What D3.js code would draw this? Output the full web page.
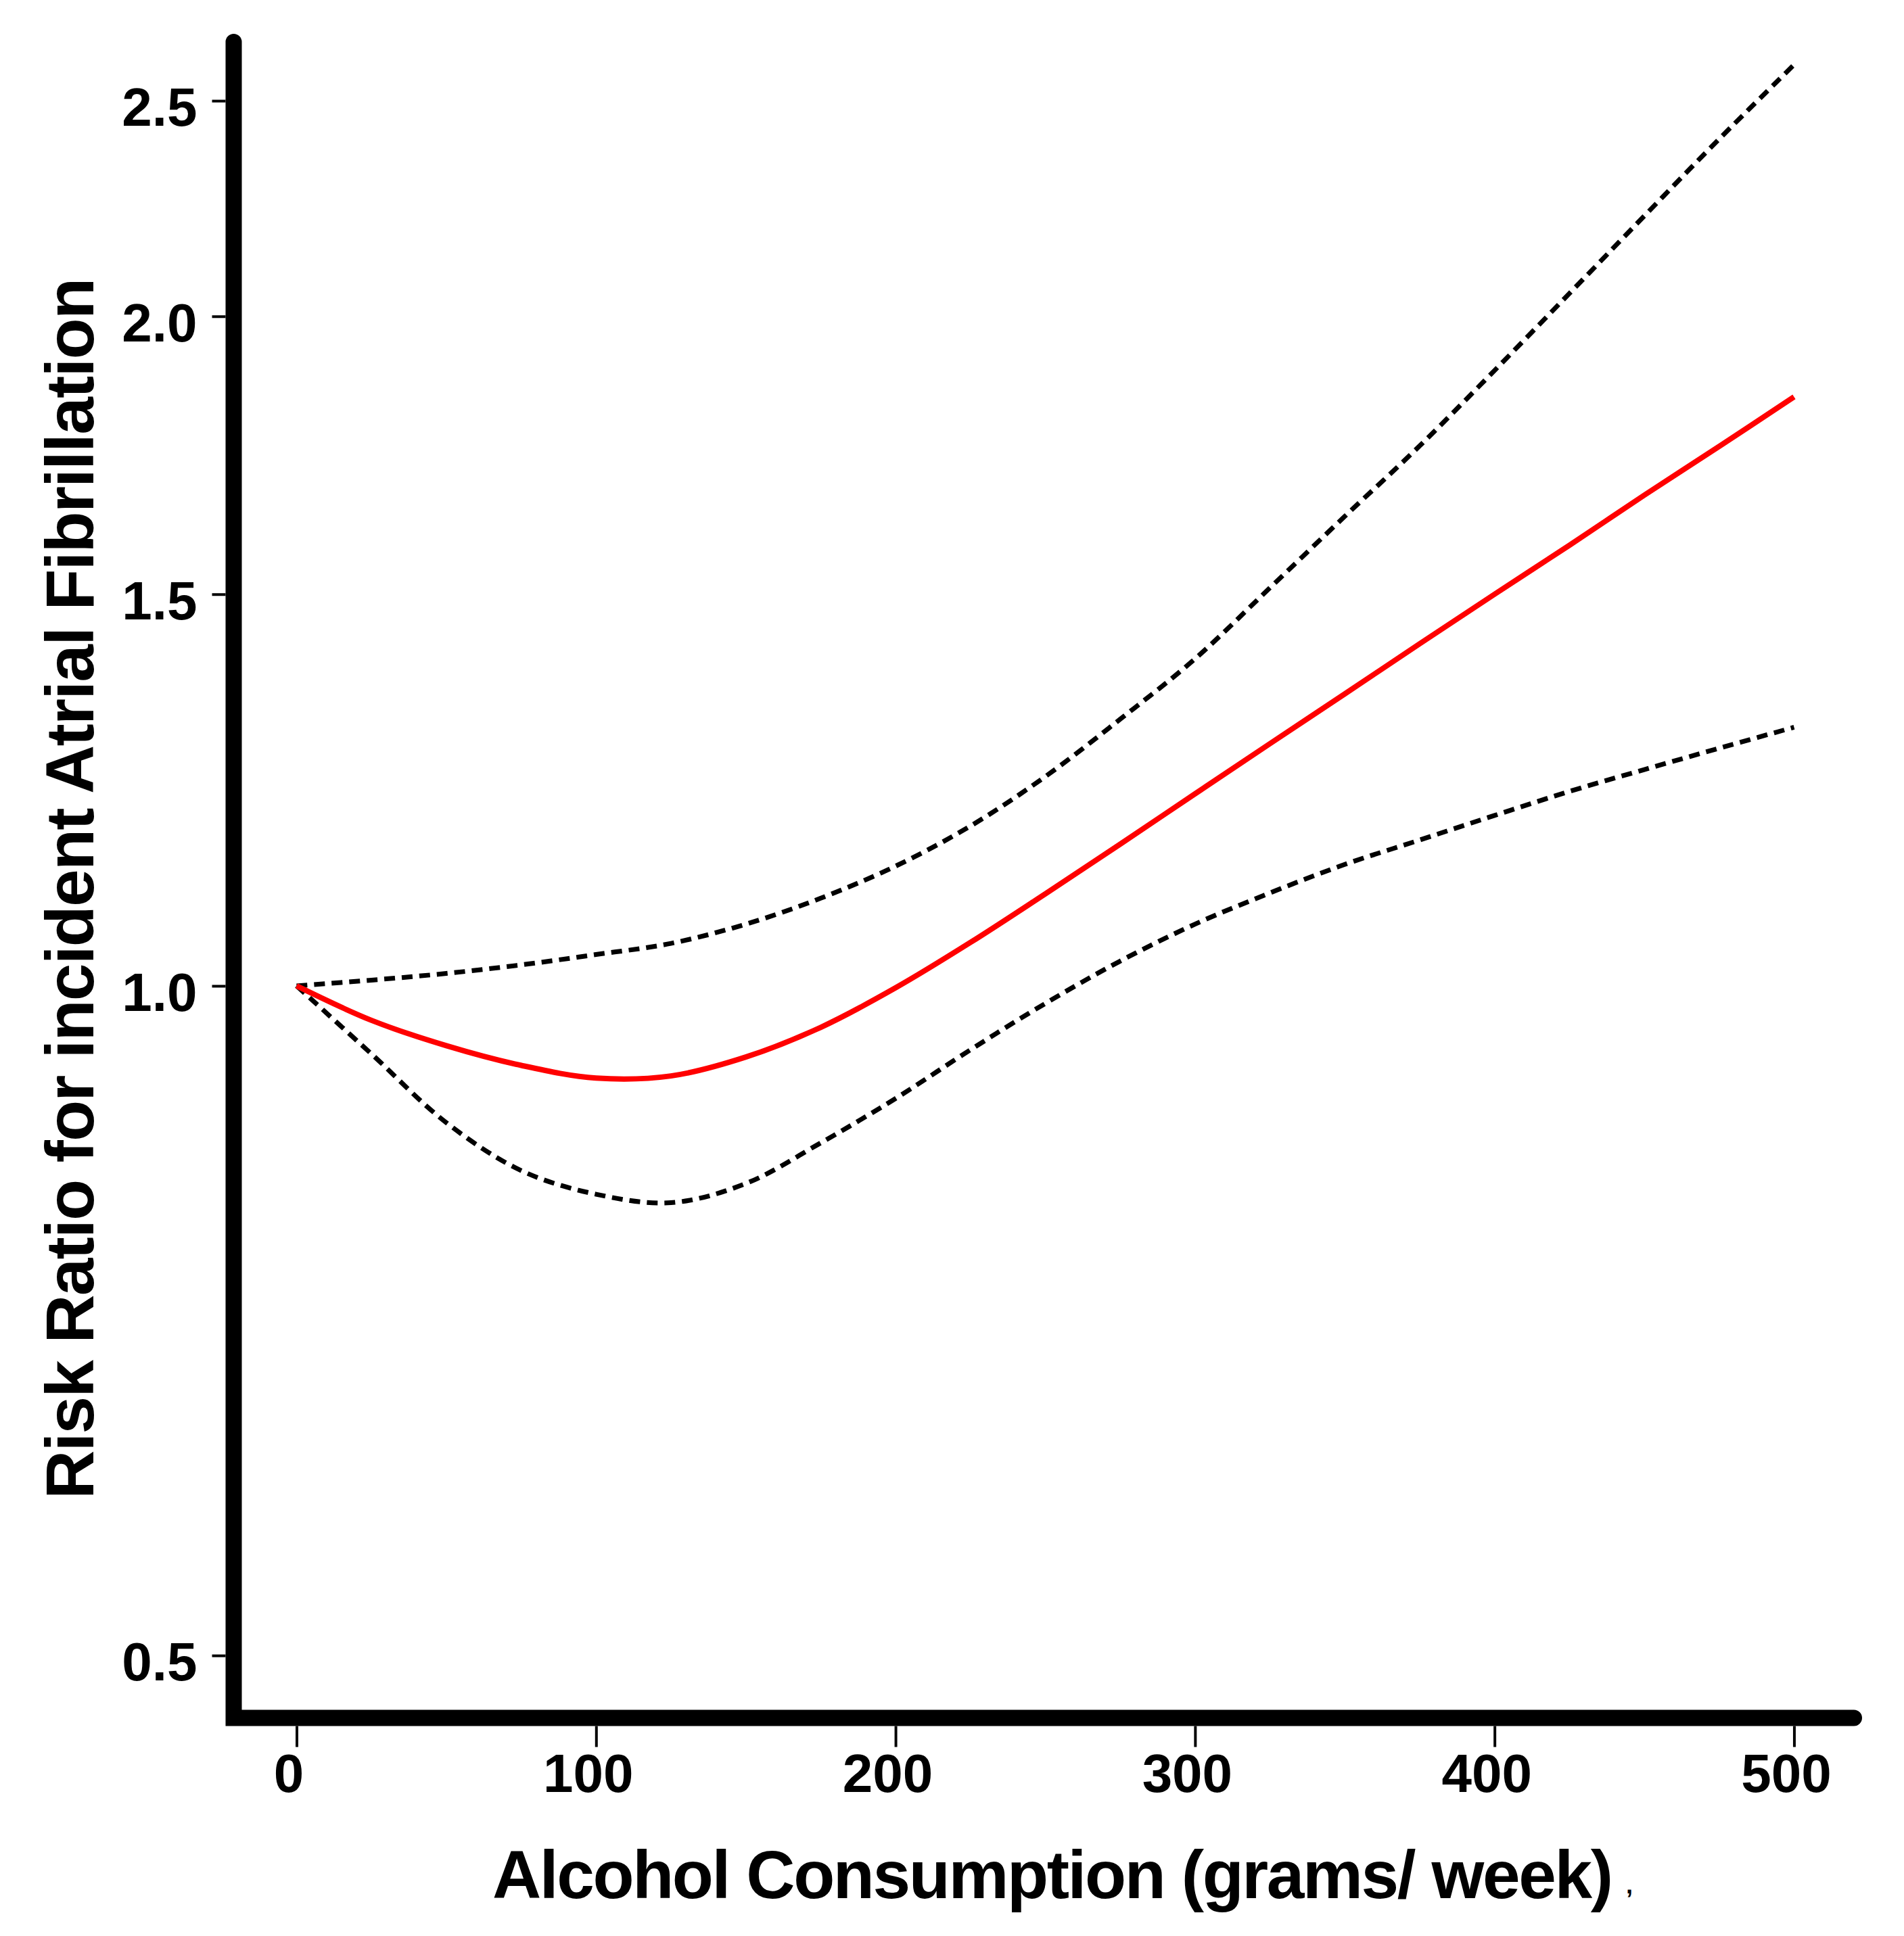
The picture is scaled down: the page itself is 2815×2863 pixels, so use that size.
<!DOCTYPE html>
<html>
<head>
<meta charset="utf-8">
<title>Alcohol and Atrial Fibrillation</title>
<script src="https://d3js.org/d3.v7.min.js"></script>
<style>
  body { margin: 0; background: #fff; }
  text { font-family: "Liberation Sans", Arial, Helvetica, sans-serif; font-weight: bold; fill: #000; }
  .rr { fill: none; stroke: #ff0000; stroke-width: 8px; }
  .ci { fill: none; stroke: #000; stroke-width: 7px; stroke-dasharray: 16 10; }
</style>
</head>
<body>
<script>
// dose (grams/week) and pooled risk ratio with 95% limits
const doses    = [0, 25, 50, 75, 100, 125, 150, 175, 200, 225, 250, 275, 300, 325, 350, 375, 400, 425, 450, 475, 500];
const riskRatio = [1.000, 0.965, 0.940, 0.921, 0.909, 0.911, 0.929, 0.958, 0.998, 1.046, 1.100, 1.158, 1.220, 1.285, 1.353, 1.425, 1.500, 1.578, 1.662, 1.748, 1.840];
const upperCI  = [1.000, 1.006, 1.013, 1.022, 1.033, 1.045, 1.066, 1.095, 1.132, 1.180, 1.242, 1.318, 1.403, 1.510, 1.626, 1.749, 1.891, 2.048, 2.219, 2.403, 2.595];
const lowerCI  = [1.000, 0.932, 0.868, 0.826, 0.806, 0.799, 0.815, 0.850, 0.890, 0.936, 0.982, 1.026, 1.066, 1.101, 1.134, 1.163, 1.193, 1.223, 1.251, 1.279, 1.307];

const xTicks = [0, 100, 200, 300, 400, 500];
const yTicks = [0.5, 1.0, 1.5, 2.0, 2.5];
const xTitle = "Alcohol Consumption (grams/ week)";
const yTitle = "Risk Ratio for incident Atrial Fibrillation";

const width = 2815, height = 2863;
const frameW = 24;

// frame domains reach a little past the data, like the original axes
const x = d3.scaleLinear().domain([-21, 520]).range([345.5, 2741]);
const y = d3.scaleLog().domain([0.4687, 2.657]).range([2540.5, 62]);

const svg = d3.select("body").append("svg")
  .attr("width", width)
  .attr("height", height);

const [x0, x1] = x.domain();
const [y0, y1] = y.domain();

// tick marks + labels
const gx = svg.append("g")
  .attr("transform", "translate(0," + (y(y0) + frameW / 2) + ")")
  .call(d3.axisBottom(x).tickValues(xTicks).tickSize(31).tickPadding(10).tickFormat(d3.format("d")))
  .attr("font-size", 80)
  .attr("font-family", null);
gx.select(".domain").remove();
gx.selectAll(".tick line").attr("stroke", "#000").attr("stroke-width", 4);
gx.selectAll(".tick text").attr("dx", "-0.15em");

const gy = svg.append("g")
  .attr("transform", "translate(" + (x(x0) - frameW / 2) + ",0)")
  .call(d3.axisLeft(y).tickValues(yTicks).tickSize(20).tickPadding(22).tickFormat(d3.format(".1f")))
  .attr("font-size", 80)
  .attr("font-family", null);
gy.select(".domain").remove();
gy.selectAll(".tick line").attr("stroke", "#000").attr("stroke-width", 4);
gy.selectAll(".tick text").attr("dy", "0.46em");

// heavy L-shaped frame
svg.append("path")
  .attr("d", d3.line()([[x(x0), y(y1)], [x(x0), y(y0)], [x(x1), y(y0)]]))
  .attr("fill", "none")
  .attr("stroke", "#000")
  .attr("stroke-width", frameW)
  .attr("stroke-linecap", "round")
  .attr("stroke-linejoin", "miter");

// curves
const line = d3.line()
  .x((d, i) => x(doses[i]))
  .y(d => y(d))
  .curve(d3.curveCatmullRom.alpha(0.5));

svg.append("path").datum(upperCI).attr("class", "ci").attr("d", line);
svg.append("path").datum(lowerCI).attr("class", "ci").attr("d", line);
svg.append("path").datum(riskRatio).attr("class", "rr").attr("d", line);

// axis titles
svg.append("text")
  .attr("x", 728)
  .attr("y", 2807)
  .attr("font-size", 100)
  .attr("textLength", 1657)
  .attr("lengthAdjust", "spacing")
  .text(xTitle);
svg.append("text")
  .attr("x", 2404)
  .attr("y", 2800)
  .attr("font-size", 36)
  .text(",");

svg.append("text")
  .attr("transform", "translate(138,1314) rotate(-90)")
  .attr("text-anchor", "middle")
  .attr("font-size", 100)
  .attr("textLength", 1806)
  .attr("lengthAdjust", "spacing")
  .text(yTitle);
</script>
</body>
</html>
